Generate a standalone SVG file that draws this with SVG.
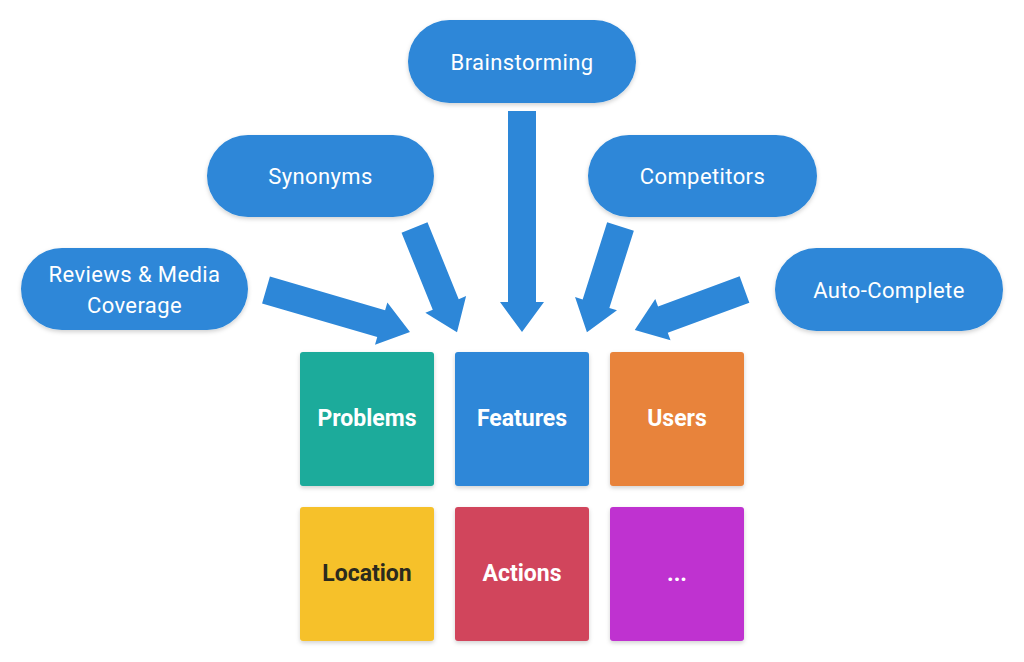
<svg xmlns="http://www.w3.org/2000/svg" width="1024" height="662" viewBox="0 0 1024 662">
  <defs>
    <filter id="sh" x="-10%" y="-10%" width="120%" height="130%">
      <feDropShadow dx="0" dy="2" stdDeviation="2" flood-color="#000" flood-opacity="0.18"/>
    </filter>
  </defs>
  <style>
    .pill { fill: #2d87d8; filter: url(#sh); }
    .pt { font-family: Roboto, "Liberation Sans", sans-serif; font-size: 22px; letter-spacing: 0.4px; fill: #ffffff; text-anchor: middle; dominant-baseline: central; }
    .box { filter: url(#sh); }
    .bt { font-family: Roboto, "Liberation Sans", sans-serif; font-size: 23px; font-weight: bold; fill: #ffffff; text-anchor: middle; dominant-baseline: central; }
    .arrow { fill: #2d87d8; }
  </style>
  <rect width="1024" height="662" fill="#ffffff"/>

  <g id="connectors">
    <!-- Brainstorming -> Features -->
    <path class="arrow" transform="translate(522,111) rotate(90)" d="M0,-14 L191,-14 L191,-22 L221,0 L191,22 L191,14 L0,14 Z"/>
    <!-- Reviews -> Problems -->
    <path class="arrow" transform="translate(266,290) rotate(16.3)" d="M0,-14 L120,-14 L120,-22 L150,0 L120,22 L120,14 L0,14 Z"/>
    <!-- Synonyms -> Features -->
    <path class="arrow" transform="translate(414.5,227.5) rotate(67.9)" d="M0,-14 L83,-14 L83,-22 L113,0 L83,22 L83,14 L0,14 Z"/>
    <!-- Competitors -> Features -->
    <path class="arrow" transform="translate(620.5,226.5) rotate(107.6)" d="M0,-14 L81,-14 L81,-22 L111,0 L81,22 L81,14 L0,14 Z"/>
    <!-- Auto-Complete -> Users -->
    <path class="arrow" transform="translate(744.5,289.5) rotate(159.7)" d="M0,-14 L87,-14 L87,-22 L117,0 L87,22 L87,14 L0,14 Z"/>
  </g>

  <g id="brainstorming">
    <rect class="pill" x="408" y="20" width="228" height="83" rx="41.5"/>
    <text class="pt" x="522" y="62">Brainstorming</text>
  </g>
  <g id="synonyms">
    <rect class="pill" x="207" y="135" width="227" height="82" rx="41"/>
    <text class="pt" x="320.5" y="176">Synonyms</text>
  </g>
  <g id="competitors">
    <rect class="pill" x="588" y="135" width="229" height="82" rx="41"/>
    <text class="pt" x="702.5" y="176">Competitors</text>
  </g>
  <g id="reviews">
    <rect class="pill" x="21" y="248" width="227" height="82" rx="41"/>
    <text class="pt" x="134.5" y="274">Reviews &amp; Media</text>
    <text class="pt" x="134.5" y="305">Coverage</text>
  </g>
  <g id="autocomplete">
    <rect class="pill" x="775" y="248" width="228" height="83" rx="41.5"/>
    <text class="pt" x="889" y="290">Auto-Complete</text>
  </g>

  <g id="problems">
    <rect class="box" x="300" y="352" width="134" height="134" rx="3" fill="#1aab9b"/>
    <text class="bt" x="367" y="418">Problems</text>
  </g>
  <g id="features">
    <rect class="box" x="455" y="352" width="134" height="134" rx="3" fill="#2d87d8"/>
    <text class="bt" x="522" y="418">Features</text>
  </g>
  <g id="users">
    <rect class="box" x="610" y="352" width="134" height="134" rx="3" fill="#e8833a"/>
    <text class="bt" x="677" y="418">Users</text>
  </g>
  <g id="location">
    <rect class="box" x="300" y="507" width="134" height="134" rx="3" fill="#f6c12b"/>
    <text class="bt" x="367" y="573" style="fill:#2b2a1e">Location</text>
  </g>
  <g id="actions">
    <rect class="box" x="455" y="507" width="134" height="134" rx="3" fill="#d1445b"/>
    <text class="bt" x="522" y="573">Actions</text>
  </g>
  <g id="more">
    <rect class="box" x="610" y="507" width="134" height="134" rx="3" fill="#bf31d0"/>
    <text class="bt" x="677" y="573">...</text>
  </g>
</svg>
